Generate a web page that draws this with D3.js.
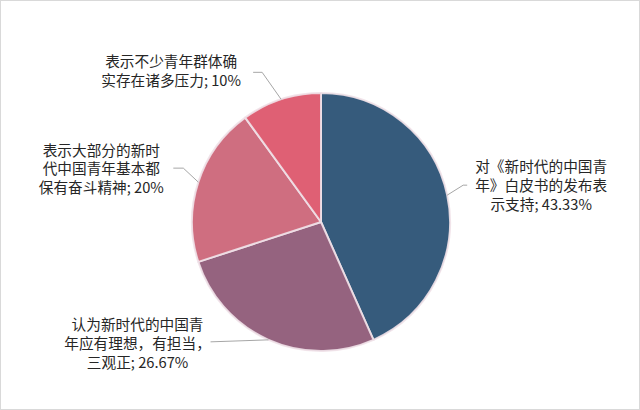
<!DOCTYPE html>
<html>
<head>
<meta charset="utf-8">
<script src="https://cdn.jsdelivr.net/npm/d3@7"></script>
<style>
  html, body { margin: 0; padding: 0; background: #fff; }
  svg { display: block; }
</style>
</head>
<body>
<svg id="chart" width="640" height="410"></svg>
<script>
// Survey categories and their shares (percent)
const categories = [
  "对《新时代的中国青年》白皮书的发布表示支持",
  "认为新时代的中国青年应有理想，有担当，三观正",
  "表示大部分的新时代中国青年基本都保有奋斗精神",
  "表示不少青年群体确实存在诸多压力"
];
const values = [43.33, 26.67, 20, 10];
const valueLabels = ["43.33%", "26.67%", "20%", "10%"];
// Wrapped label lines for each slice
const labelLines = [
  ["对《新时代的中国青", "年》白皮书的发布表", "示支持; 43.33%"],
  ["认为新时代的中国青", "年应有理想，有担当，", "三观正; 26.67%"],
  ["表示大部分的新时", "代中国青年基本都", "保有奋斗精神; 20%"],
  ["表示不少青年群体确", "实存在诸多压力; 10%"]
];
const colors = ["#365b7c", "#95637f", "#cf6e80", "#df6074"];

const svg = d3.select("#chart");
const W = 640, H = 410;

// outer frame
svg.append("rect")
  .attr("x", 0.5).attr("y", 0.5)
  .attr("width", W - 1).attr("height", H - 1)
  .attr("fill", "#fff").attr("stroke", "#d9d9d9");

const cx = 321, cy = 222, R = 129;

const data = categories.map((c, i) => ({ name: c, value: values[i], lines: labelLines[i], color: colors[i] }));

const pie = d3.pie().sort(null).value(d => d.value).startAngle(0).endAngle(2 * Math.PI);
const arcs = pie(data);
const arc = d3.arc().innerRadius(0).outerRadius(R);

const g = svg.append("g").attr("transform", `translate(${cx},${cy})`);

g.selectAll("path.slice")
  .data(arcs)
  .join("path")
  .attr("class", "slice")
  .attr("d", arc)
  .attr("fill", d => d.data.color)
  .attr("stroke", "rgba(240,225,232,0.9)")
  .attr("stroke-width", 2)
  .attr("stroke-linejoin", "round");

// Label placement relative to the slice's outer mid point:
// leader elbow, leader end, and the text block's centre / first baseline
const layout = [
  { elbow: [16, -10], end: [20, -10], text: [94, -23] },
  { elbow: [-58, 2], end: [-58, 2], text: [-131, -9.5] },
  { elbow: [-15, -14], end: [-25, -14], text: [-97, -26.5] },
  { elbow: [-19, -27], end: [-28, -27], text: [-110, -32] }
];

const lineH = 18.7;

arcs.forEach((a, i) => {
  const mid = (a.startAngle + a.endAngle) / 2;
  const px = R * Math.sin(mid), py = -R * Math.cos(mid);
  const L = layout[i];
  const ex = px + L.elbow[0], ey = py + L.elbow[1];
  const tx = px + L.end[0], ty = py + L.end[1];
  g.append("polyline")
    .attr("points", `${px},${py} ${ex},${ey} ${tx},${ty}`)
    .attr("fill", "none")
    .attr("stroke", "#a6a6a6")
    .attr("stroke-width", 1);

  const text = g.append("text")
    .attr("x", px + L.text[0])
    .attr("y", py + L.text[1])
    .attr("text-anchor", "middle")
    .attr("font-family", "'Noto Sans CJK SC', 'Microsoft YaHei', sans-serif")
    .attr("font-size", 14.67)
    .attr("fill", "#262626");
  a.data.lines.forEach((ln, k) => {
    text.append("tspan")
      .attr("x", px + L.text[0])
      .attr("dy", k === 0 ? 0 : lineH)
      .text(ln);
  });
});
</script>
</body>
</html>
